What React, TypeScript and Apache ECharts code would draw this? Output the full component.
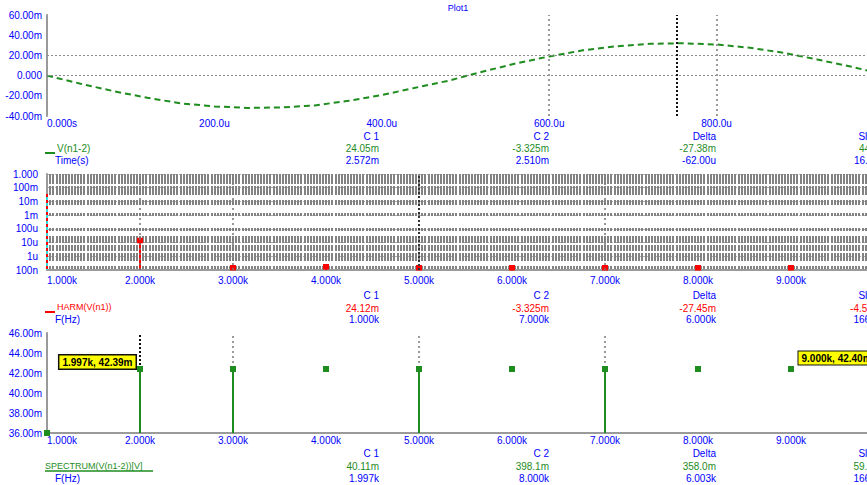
import React, { useEffect, useRef } from "react";
import * as echarts from "echarts";

// ---------- data ----------
const timeUs = [0, 40, 80, 120, 160, 200, 240, 280, 320, 360, 400, 440, 480, 520, 560, 600, 640, 680, 720, 760, 800, 840, 880, 920, 960, 1000];
const voltageM = [0, -8, -15.5, -22, -27.5, -30.5, -32, -31.5, -29.5, -25, -19.3, -12, -5, 3.8, 12, 19, 25, 29, 31.5, 32, 30.8, 27.5, 22.6, 16, 9, 1];
const timeRefLevelsM = [0, 20];
const timeCursorsUs = [600, 800];
const activeTimeCursorUs = 752;

const harmonicFreqs = [1000, 2000, 3000, 4000, 5000, 6000, 7000, 8000, 9000];
const harmonicMag = [3.5e-2, 1.35e-5, 1.2e-7, 1.66e-7, 1.2e-7, 1.2e-7, 1.1e-7, 1.1e-7, 1.0e-7];
const spectrumMagM = [36, 42.4, 42.4, 42.4, 42.4, 42.4, 42.4, 42.4, 42.4];
const stemFreqs = [2000, 3000, 5000, 7000];
const freqCursors = [2000, 3000, 5000, 7000];
const activeFreqCursor = 2000;

const readoutHeaders = ["C 1", "C 2", "Delta", "Slope"];
const p1Values = ["24.05m", "-3.325m", "-27.38m", "441.6"];
const p1Times = ["2.572m", "2.510m", "-62.00u", "16.13k"];
const p2Values = ["24.12m", "-3.325m", "-27.45m", "-4.575u"];
const p2Freqs = ["1.000k", "7.000k", "6.000k", "166.7u"];
const p3Values = ["40.11m", "398.1m", "358.0m", "59.66u"];
const p3Freqs = ["1.997k", "8.000k", "6.003k", "166.6u"];
const annotationLeft = "1.997k, 42.39m";
const annotationRight = "9.000k, 42.40m";

// ---------- styles ----------
const BLUE = "#0000ff";
const GREEN = "#1e8c1e";
const RED = "#ff0000";
const GRID_GRAY = "#8c8c8c";
const AXIS_GRAY = "#9a9a9a";
const FONT = "Liberation Sans";
const LOG_MIN = 1e-7;
const SPEC_MIN = 36;
// dash pattern of the dense vertical grid in the log panel (top to bottom)
const LOG_GRID_DASH = [10, 2, 9, 5, 5, 8, 3, 12, 3, 5, 7, 2, 6, 2, 8, 5, 5, 10];

const fmtTime = (v: number) => (v === 0 ? "0.000s" : v >= 1000 ? (v / 1000).toFixed(3) + "m" : v.toFixed(1) + "u");
const fmtFreq = (v: number) => {
  const k = v / 1000;
  return k >= 10 ? k.toFixed(2) + "k" : k.toFixed(3) + "k";
};
const fmtMilli = (v: number) => (Math.abs(v) < 1e-9 ? "0.000" : v.toFixed(2) + "m");
const logNames: Record<string, string> = { "0": "1.000", "-1": "100m", "-2": "10m", "-3": "1m", "-4": "100u", "-5": "10u", "-6": "1u", "-7": "100n" };
const fmtLog = (v: number) => logNames[String(Math.round(Math.log10(v)))] ?? "";

const colRight = [379, 549, 716, 884];

function txt(text: string, x: number, y: number, fill: string, align = "left", size = 10, weight = "normal") {
  return {
    type: "text",
    x,
    y,
    silent: true,
    style: {
      text,
      fill,
      font: `${weight} ${size}px "${FONT}"`,
      align,
      textAlign: align,
      verticalAlign: "middle",
      textVerticalAlign: "middle",
    },
  };
}

function hline(x1: number, x2: number, y: number, stroke: string, w = 1) {
  return { type: "line", silent: true, shape: { x1, y1: y, x2, y2: y }, style: { stroke, lineWidth: w } };
}

function readoutBlock(hy: number, r1: number, r2: number, vals: string[], valColor: string, args: string[]) {
  const out: any[] = [];
  readoutHeaders.forEach((h, i) => out.push(txt(h, colRight[i], hy, BLUE, "right")));
  vals.forEach((v, i) => out.push(txt(v, colRight[i], r1, valColor, "right")));
  args.forEach((v, i) => out.push(txt(v, colRight[i], r2, BLUE, "right")));
  return out;
}

const xBase = (gridIndex: number) => ({
  type: "value",
  gridIndex,
  axisTick: { show: false },
  axisLine: { show: true, onZero: false, lineStyle: { color: AXIS_GRAY, width: 2 } },
  splitLine: { show: false },
});

export default function App() {
  const ref = useRef<HTMLDivElement>(null);

  useEffect(() => {
    document.body.style.margin = "0";
    if (!ref.current) return;
    const chart = echarts.init(ref.current, null, { renderer: "svg" });

    const cursorLine = (x: number, active: boolean) => ({
      xAxis: x,
      lineStyle: active ? { color: "#111", type: [2, 2], width: 2 } : { color: AXIS_GRAY, type: [2, 3], width: 2 },
    });

    const option: any = {
      animation: false,
      backgroundColor: "#ffffff",
      textStyle: { fontFamily: FONT },
      grid: [
        { left: 47, right: -17, top: 15, height: 101, outerBoundsMode: "none", containLabel: false },
        { left: 47, right: -17, top: 174, height: 96, outerBoundsMode: "none", containLabel: false },
        { left: 47, right: -17, top: 333, height: 100, outerBoundsMode: "none", containLabel: false },
      ],
      xAxis: [
        {
          ...xBase(0),
          min: 0,
          max: 1000,
          interval: 200,
          axisLine: { show: false },
          axisLabel: { color: BLUE, fontSize: 10, margin: 2, formatter: fmtTime, alignMinLabel: "left", fontFamily: FONT },
        },
        {
          ...xBase(1),
          min: 1000,
          max: 10000,
          interval: 1000,
          splitLine: { show: true, lineStyle: { color: "#828282", width: 2, type: LOG_GRID_DASH } },
          minorTick: { show: false, splitNumber: 30 },
          minorSplitLine: { show: true, lineStyle: { color: "#828282", width: 2, type: LOG_GRID_DASH } },
          axisLabel: { color: BLUE, fontSize: 10, margin: 5, formatter: fmtFreq, alignMinLabel: "left", fontFamily: FONT },
        },
        {
          ...xBase(2),
          min: 1000,
          max: 10000,
          interval: 1000,
          axisLabel: { color: BLUE, fontSize: 10, margin: 2, formatter: fmtFreq, alignMinLabel: "left", fontFamily: FONT },
        },
      ],
      yAxis: [
        {
          type: "value",
          gridIndex: 0,
          min: -40,
          max: 60,
          interval: 20,
          axisTick: { show: false },
          axisLine: { show: true, onZero: false, lineStyle: { color: AXIS_GRAY, width: 2 } },
          splitLine: { show: false },
          axisLabel: { color: BLUE, fontSize: 10, margin: 5, formatter: fmtMilli, fontFamily: FONT },
        },
        {
          type: "log",
          logBase: 10,
          gridIndex: 1,
          min: LOG_MIN,
          max: 1,
          splitNumber: 7,
          axisTick: { show: false },
          axisLine: { show: true, onZero: false, lineStyle: { color: AXIS_GRAY, width: 2 } },
          splitLine: { show: true, lineStyle: { color: "#b0b0b0", width: 1, type: [2, 2] } },
          axisLabel: { color: BLUE, fontSize: 10, margin: 9, formatter: fmtLog, fontFamily: FONT },
        },
        {
          type: "value",
          gridIndex: 2,
          min: SPEC_MIN,
          max: 46,
          interval: 2,
          axisTick: { show: false },
          axisLine: { show: true, onZero: false, lineStyle: { color: AXIS_GRAY, width: 2 } },
          splitLine: { show: false },
          axisLabel: { color: BLUE, fontSize: 10, margin: 5, formatter: fmtMilli, fontFamily: FONT },
        },
      ],
      series: [
        {
          type: "line",
          xAxisIndex: 0,
          yAxisIndex: 0,
          data: timeUs.map((t, i) => [t, voltageM[i]]),
          symbol: "none",
          z: 3,
          lineStyle: { color: GREEN, width: 2, type: [6, 4] },
          markLine: {
            silent: true,
            symbol: ["none", "none"],
            label: { show: false },
            animation: false,
            data: [
              ...timeRefLevelsM.map((v) => ({ yAxis: v, lineStyle: { color: GRID_GRAY, type: [2, 2], width: 1 } })),
              ...timeCursorsUs.map((t) => cursorLine(t, false)),
              cursorLine(activeTimeCursorUs, true),
            ],
          },
        },
        {
          type: "line",
          xAxisIndex: 1,
          yAxisIndex: 1,
          data: harmonicFreqs.map((f, i) => [f, harmonicMag[i]]),
          symbol: "none",
          lineStyle: { opacity: 0 },
          z: 1,
          markLine: {
            silent: true,
            symbol: ["none", "none"],
            label: { show: false },
            animation: false,
            data: freqCursors.map((f) =>
              f === 5000
                ? { xAxis: f, lineStyle: { color: "#333", type: [2, 2], width: 2 } }
                : { xAxis: f, lineStyle: { color: "#777", type: [2, 3], width: 1.5 } }
            ),
          },
        },
        {
          type: "custom",
          xAxisIndex: 1,
          yAxisIndex: 1,
          clip: false,
          z: 4,
          data: harmonicFreqs.map((f, i) => [f, harmonicMag[i]]),
          renderItem: (params: any, api: any) => {
            const f = api.value(0);
            const m = api.value(1);
            const top = api.coord([f, m]);
            const base = api.coord([f, LOG_MIN]);
            const first = params.dataIndex === 0;
            const shape = { x1: top[0], y1: top[1], x2: base[0], y2: base[1] };
            if (first) {
              return {
                type: "group",
                children: [
                  { type: "line", shape, style: { stroke: "#33dddd", lineWidth: 2 } },
                  { type: "line", shape, style: { stroke: RED, lineWidth: 2, lineDash: [3, 3] } },
                ],
              };
            }
            return {
              type: "group",
              children: [
                { type: "line", shape, style: { stroke: RED, lineWidth: 2 } },
                { type: "rect", shape: { x: top[0] - 3, y: Math.min(top[1] - 3, base[1] - 5), width: 6, height: 5.5 }, style: { fill: RED } },
              ],
            };
          },
        },
        {
          type: "custom",
          xAxisIndex: 2,
          yAxisIndex: 2,
          clip: true,
          z: 3,
          data: stemFreqs.map((f) => [f, spectrumMagM[harmonicFreqs.indexOf(f)]]),
          renderItem: (params: any, api: any) => {
            const f = api.value(0);
            const m = api.value(1);
            const top = api.coord([f, m]);
            const base = api.coord([f, SPEC_MIN]);
            return {
              type: "line",
              shape: { x1: top[0], y1: top[1], x2: base[0], y2: base[1] },
              style: { stroke: GREEN, lineWidth: 2 },
            };
          },
        },
        {
          type: "scatter",
          xAxisIndex: 2,
          yAxisIndex: 2,
          symbol: "rect",
          symbolSize: 6,
          z: 4,
          itemStyle: { color: GREEN, opacity: 1 },
          data: harmonicFreqs.map((f, i) => [f, spectrumMagM[i]]),
          markLine: {
            silent: true,
            symbol: ["none", "none"],
            label: { show: false },
            animation: false,
            z: 2,
            data: freqCursors.map((f) => cursorLine(f, f === activeFreqCursor)),
          },
          markPoint: {
            silent: true,
            symbol: "rect",
            symbolSize: 1,
            itemStyle: { color: "rgba(0,0,0,0)" },
            data: [
              {
                coord: [harmonicFreqs[1], spectrumMagM[1]],
                label: {
                  show: true,
                  formatter: annotationLeft,
                  position: "left",
                  distance: 4,
                  offset: [0, -7],
                  color: "#000",
                  fontSize: 10,
                  fontWeight: "bold",
                  fontFamily: FONT,
                  backgroundColor: "#ffff00",
                  borderColor: "#111",
                  borderWidth: 1.5,
                  padding: [2, 3, 1, 3],
                },
              },
              {
                coord: [harmonicFreqs[8], spectrumMagM[8]],
                label: {
                  show: true,
                  formatter: annotationRight,
                  position: "right",
                  distance: 7,
                  offset: [0, -11],
                  color: "#000",
                  fontSize: 10,
                  fontWeight: "bold",
                  fontFamily: FONT,
                  backgroundColor: "#ffff00",
                  borderColor: "#111",
                  borderWidth: 1,
                  padding: [2, 3, 1, 3],
                },
              },
            ],
          },
        },
      ],
      graphic: [
        txt("Plot1", 458, 8, BLUE, "center", 9),
        // panel 1 readout
        hline(45, 55, 153, GREEN, 2),
        txt("V(n1-2)", 57, 148, GREEN),
        txt("Time(s)", 55, 160, BLUE),
        ...readoutBlock(136, 148, 160, p1Values, GREEN, p1Times),
        // panel 2 readout
        hline(45, 55, 312, RED, 2),
        txt("HARM(V(n1))", 57, 307, RED, "left", 9),
        txt("F(Hz)", 55, 319, BLUE),
        ...readoutBlock(295, 308, 319, p2Values, RED, p2Freqs),
        // panel 3 readout
        txt("SPECTRUM(V(n1-2))[V]", 45, 466, GREEN, "left", 9),
        hline(45, 153, 471, GREEN, 1.5),
        txt("F(Hz)", 55, 478, BLUE),
        ...readoutBlock(453, 466, 478, p3Values, GREEN, p3Freqs),
      ],
    };

    chart.setOption(option);
    return () => chart.dispose();
  }, []);

  return <div ref={ref} style={{ width: 867, height: 485, background: "#fff" }} />;
}
